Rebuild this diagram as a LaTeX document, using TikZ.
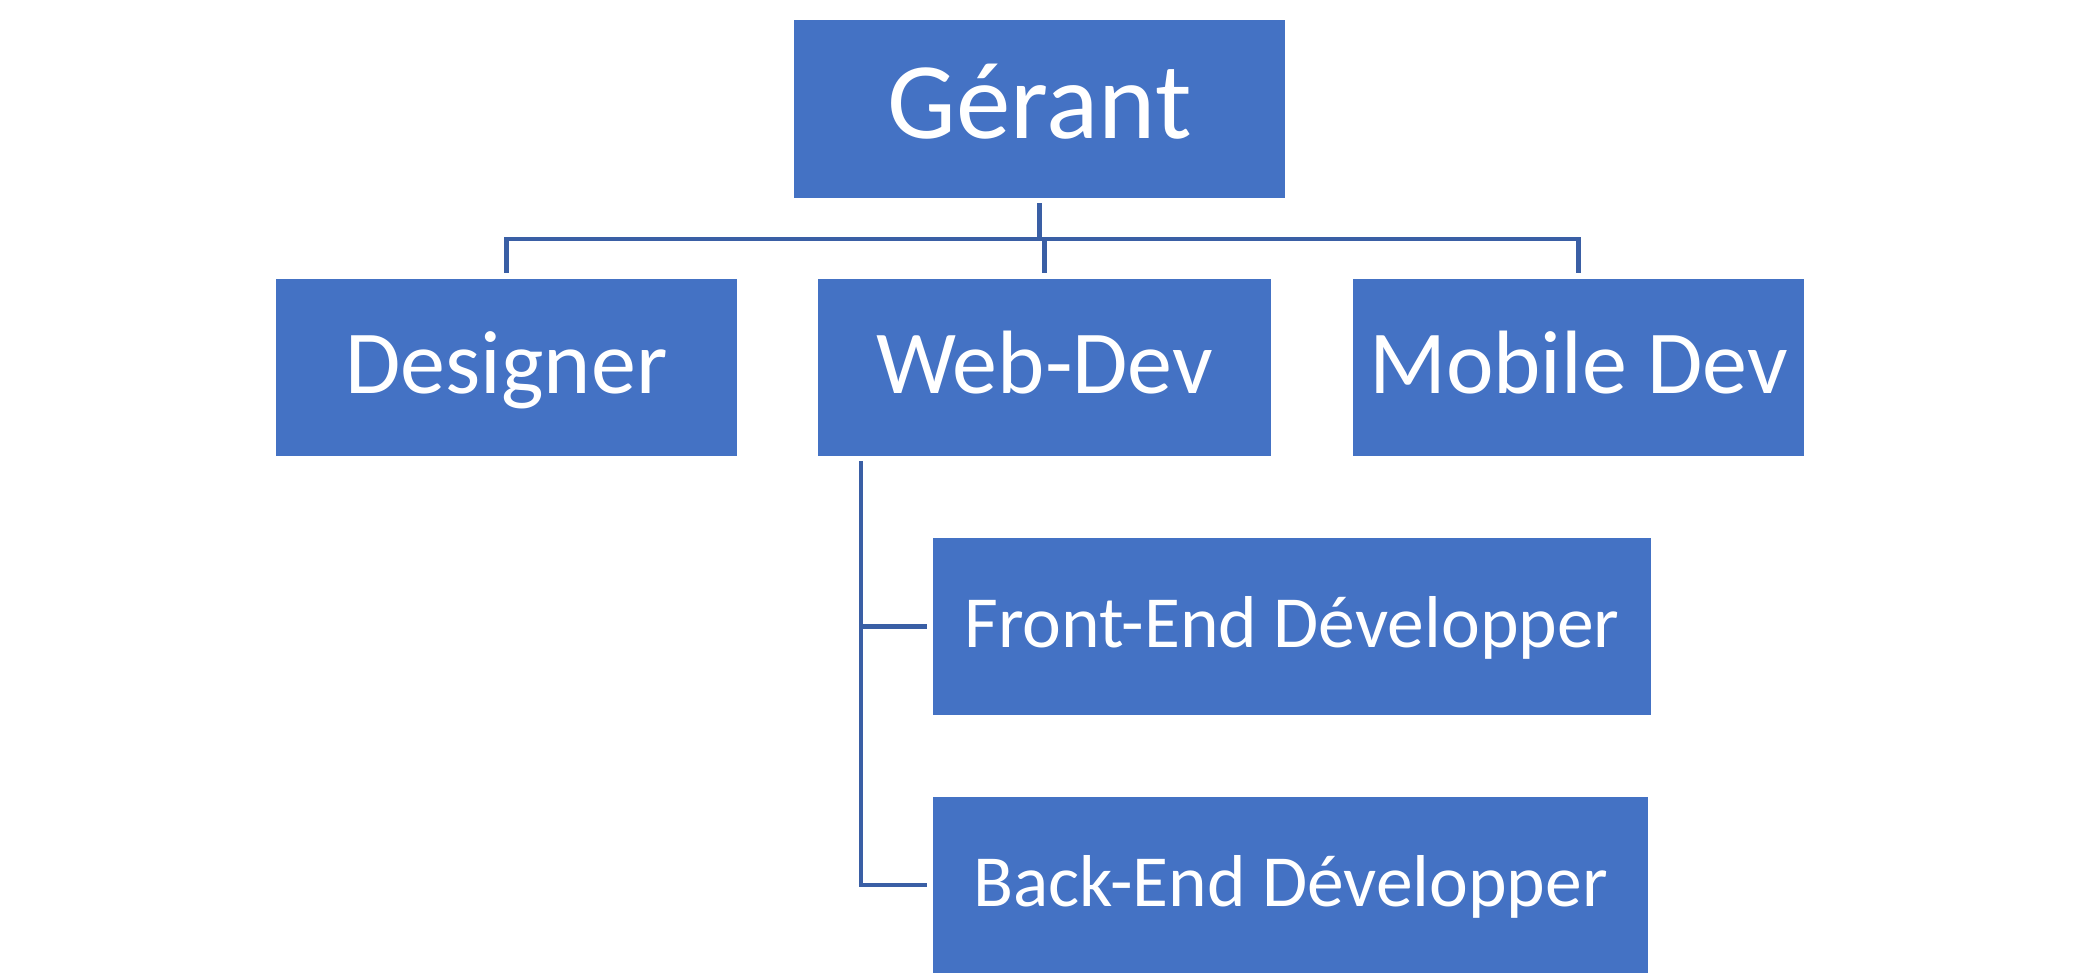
\documentclass[tikz,border=0pt]{standalone}
\usepackage{fontspec}
\setmainfont{Carlito}
\definecolor{boxblue}{HTML}{4472C4}
\definecolor{lineblue}{HTML}{3A5FA5}
\begin{document}
\begin{tikzpicture}[x=1pt,y=-1pt,
  orgbox/.style={rectangle, fill=boxblue, text=white, inner sep=0pt, anchor=center},
  topbox/.style={orgbox, minimum width=491pt, minimum height=178pt, font=\fontsize{109}{120}\selectfont, text height=70pt, text depth=10pt},
  midbox/.style={orgbox, minimum height=177pt, font=\fontsize{90}{100}\selectfont, text height=60pt, text depth=9pt},
  lowbox/.style={orgbox, minimum height=177pt, font=\fontsize{73.5}{80}\selectfont, text height=49pt, text depth=7pt},
  link/.style={draw=lineblue, line width=4.5pt, shorten <=5pt, shorten >=6pt}]
\fill[white] (0,0) rectangle (2079,979);
\useasboundingbox (0,0) rectangle (2079,979);
\node[topbox] (g) at (1039.5,109) {Gérant};
\node[midbox, minimum width=461pt] (des) at (506.5,367.5) {Designer};
\node[midbox, minimum width=453pt] (web) at (1044.5,367.5) {Web-Dev};
\node[midbox, minimum width=451pt] (mob) at (1578.5,367.5) {Mobile Dev};
\node[lowbox, minimum width=718pt] (fe) at (1292,626.5) {Front-End Développer};
\node[lowbox, minimum width=715pt, minimum height=176pt] (be) at (1290.5,885) {Back-End Développer};
\draw[link] (g.south) -- ++(0,41) -| (des.north);
\draw[link] (g.south) -- ++(0,41) -| (web.north);
\draw[link] (g.south) -- ++(0,41) -| (mob.north);
\draw[link] ([xshift=43pt]web.south west) |- (fe.west);
\draw[link] ([xshift=43pt]web.south west) |- (be.west);
\end{tikzpicture}
\end{document}
